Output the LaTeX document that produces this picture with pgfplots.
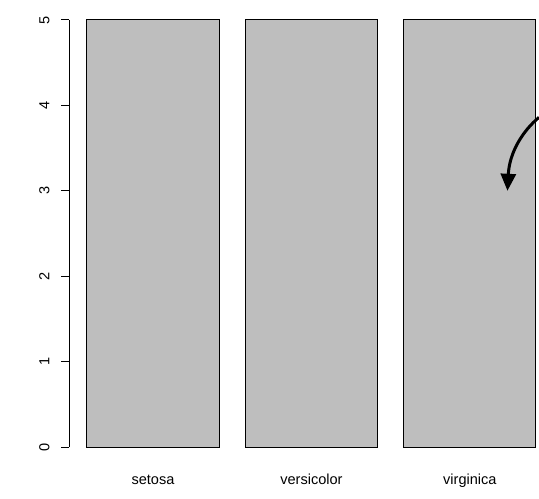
\documentclass[border=0pt]{standalone}
\usepackage{pgfplots}
\pgfplotsset{compat=1.18}
\usepackage{fontspec}
\setmainfont{Liberation Sans}
\usetikzlibrary{arrows.meta}
\definecolor{bargray}{RGB}{190,190,190}
\begin{document}
\fontsize{10.9}{13}\selectfont
\begin{tikzpicture}
\begin{axis}[
  x=99pt, y=64.05pt,
  xmin=0.064, xmax=3.624, ymin=0, ymax=5,
  clip=false,
  axis lines=left,
  axis line style={-, line width=0.75pt},
  x axis line style={draw=none},
  xtick={0.7,1.9,3.1},
  xticklabels={setosa,versicolor,virginica},
  xtick style={draw=none},
  xticklabel style={anchor=base, inner sep=0pt, yshift=-22.25pt},
  ytick={0,1,2,3,4,5},
  ytick style={line width=0.75pt, black},
  tick align=outside,
  major tick length=6pt,
  yticklabel shift=8.5pt,
  yticklabel style={rotate=90, anchor=south, inner sep=0pt},
  /pgf/number format/assume math mode=true,
  ticklabel style={font=\fontsize{10.9}{13}\selectfont},
]
\addplot[ybar, bar width=99pt, bar shift=0pt, fill=bargray, draw=black, line width=0.75pt]
  coordinates {(0.7,5) (1.9,5) (3.1,5)};
\draw[line width=2.25pt, -{Triangle[length=12.75pt,width=11.25pt]}]
  (axis cs:3.624,3.86) .. controls (axis cs:3.50,3.70) and (axis cs:3.40,3.45) .. (axis cs:3.385,3.0);
\coordinate (bl) at (axis cs:-0.459,-0.597);
\coordinate (tr) at (axis cs:3.624,5.234);
\end{axis}
\pgfresetboundingbox
\path[use as bounding box] (bl) rectangle (tr);
\end{tikzpicture}
\end{document}
